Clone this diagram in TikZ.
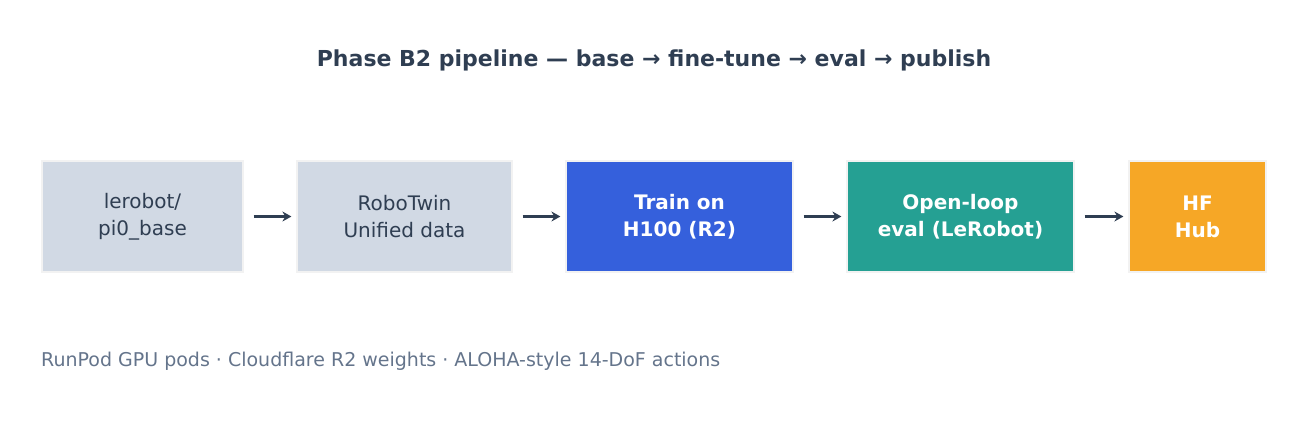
\documentclass[tikz,border=0pt]{standalone}
\usepackage{fontspec}
\setmainfont{DejaVu Sans}
\usetikzlibrary{arrows.meta}
\definecolor{ink}{HTML}{2F3E52}
\definecolor{grayfill}{HTML}{D1D9E4}
\definecolor{blu}{HTML}{3560DC}
\definecolor{teal2}{HTML}{25A093}
\definecolor{orng}{HTML}{F6A726}
\definecolor{note}{HTML}{64748B}
\tikzset{
 box/.style={draw=white!90!gray, line width=1.2pt, minimum height=111pt, align=center, inner sep=0pt, font=\fontsize{20}{27}\selectfont},
 lt/.style={box, fill=grayfill, text=ink},
 dk/.style={box, text=white, font=\fontsize{20}{27}\selectfont\bfseries},
 arr/.style={-{Stealth[length=9pt,width=10pt]}, draw=ink, line width=2.5pt}
}
\begin{document}
\begin{tikzpicture}[x=1pt,y=1pt]
\useasboundingbox (0,0) rectangle (1308,-445);
\node[font=\fontsize{22}{26}\selectfont\bfseries, text=ink] (title) at (654,-60) {Phase B2 pipeline — base → fine-tune → eval → publish};
\node[lt, minimum width=201pt] (a) at (142.5,-216.5) {lerobot/\\pi0\_base};
\node[lt, minimum width=215pt] (b) at (404.5,-216.5) {RoboTwin\\Unified data};
\node[dk, fill=blu, minimum width=227pt] (c) at (679.5,-216.5) {Train on\\H100 (R2)};
\node[dk, fill=teal2, minimum width=227pt] (d) at (960.5,-216.5) {Open-loop\\eval (LeRobot)};
\node[dk, fill=orng, minimum width=137pt] (e) at (1197.5,-216.5) {HF\\Hub};
\draw[arr] ([xshift=10pt]a.east) -- ([xshift=-5pt]b.west);
\draw[arr] ([xshift=10pt]b.east) -- ([xshift=-5pt]c.west);
\draw[arr] ([xshift=10pt]c.east) -- ([xshift=-5pt]d.west);
\draw[arr] ([xshift=10pt]d.east) -- ([xshift=-5pt]e.west);
\node[anchor=west, inner sep=0pt, text=note, font=\fontsize{19}{22}\selectfont] (foot) at (41,-361) {RunPod GPU pods · Cloudflare R2 weights · ALOHA-style 14-DoF actions};
\end{tikzpicture}
\end{document}
